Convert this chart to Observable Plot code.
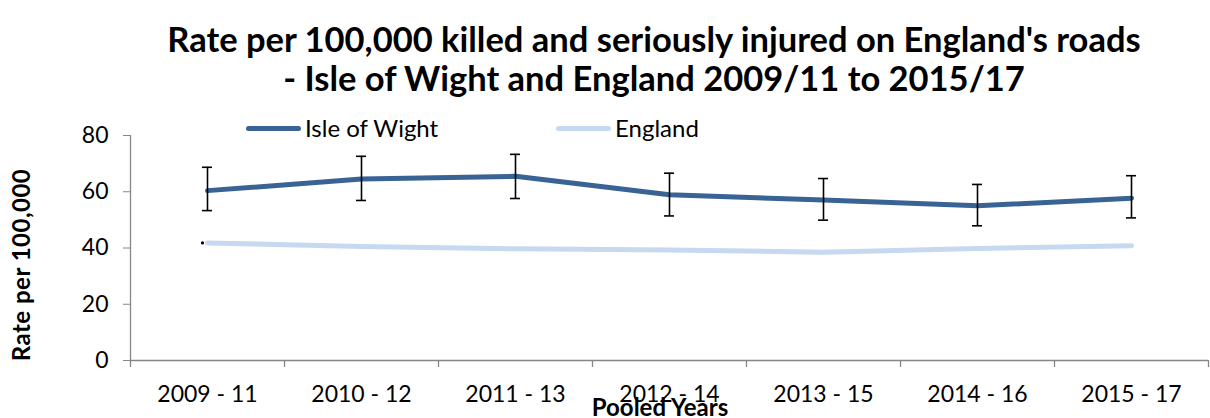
<!DOCTYPE html>
<html>
<head>
<meta charset="utf-8">
<script src="https://cdn.jsdelivr.net/npm/d3@7"></script>
<script src="https://cdn.jsdelivr.net/npm/@observablehq/plot@0.6"></script>
<style>
  html, body { margin: 0; padding: 0; background: #fff; }
  #wrap { position: relative; width: 1210px; height: 418px; overflow: hidden; font-family: Lato, "Open Sans", sans-serif; color: #000; }
  #wrap svg { position: absolute; left: 0; top: 0; }
  .title { position: absolute; left: 654px; transform: translateX(-50%); white-space: nowrap; font-weight: bold; font-size: 34.5px; line-height: 1; }
  .leg { position: absolute; font-size: 24px; line-height: 1; white-space: nowrap; display: flex; align-items: center; }
  .leg span.sw { display: inline-block; width: 55px; height: 5px; border-radius: 3px; margin-right: 4px; }
  #ylab { position: absolute; left: 21px; top: 265px; transform: translate(-50%, -50%) rotate(-90deg); font-weight: bold; font-size: 24px; letter-spacing: 0.5px; white-space: nowrap; line-height: 1; }
  #xlab { position: absolute; left: 660px; top: 395px; transform: translateX(-50%); font-weight: bold; font-size: 24px; white-space: nowrap; line-height: 1; }
</style>
</head>
<body>
<div id="wrap">
  <div class="title" style="top:22px">Rate per 100,000 killed and seriously injured on England's roads</div>
  <div class="title" style="top:61px">- Isle of Wight and England 2009/11 to 2015/17</div>
  <div id="ylab">Rate per 100,000</div>
  <div id="xlab">Pooled Years</div>
</div>
<script>
const categories = ["2009 - 11", "2010 - 12", "2011 - 13", "2012 - 14", "2013 - 15", "2014 - 16", "2015 - 17"];
const iow = [60.4, 64.5, 65.5, 58.9, 57.1, 55.0, 57.7];
const iowLower = [53.3, 56.9, 57.6, 51.4, 49.9, 47.9, 50.7];
const iowUpper = [68.7, 72.6, 73.3, 66.6, 64.7, 62.6, 65.7];
const england = [41.8, 40.5, 39.7, 39.3, 38.5, 39.8, 40.8];
const yTicks = [0, 20, 40, 60, 80];
const seriesNames = ["Isle of Wight", "England"];
const colors = ["#396395", "#c6d9f1"];

const rows = categories.map((c, i) => ({i, cat: c, iow: iow[i], lo: iowLower[i], hi: iowUpper[i], eng: england[i]}));
const bounds = d3.range(categories.length + 1).map(k => k - 0.5);

const axisColor = "#868686";
const chart = Plot.plot({
  width: 1210,
  height: 418,
  marginLeft: 130,
  marginRight: 2,
  marginTop: 135,
  marginBottom: 58,
  style: {fontFamily: "Lato, 'Open Sans', sans-serif", fontSize: "22px", color: "#000", background: "transparent", overflow: "visible"},
  x: {type: "linear", domain: [-0.5, categories.length - 0.5], axis: null},
  y: {domain: [0, 80], axis: null},
  marks: [
    Plot.axisY({ticks: yTicks, tickSize: 7, tickPadding: 15, stroke: axisColor, label: null, fontSize: 23}),
    Plot.axisX({ticks: d3.range(categories.length), tickSize: 0, tickPadding: 25, tickFormat: i => categories[i], label: null, fontSize: 23}),
    Plot.ruleX([-0.5], {stroke: axisColor, strokeWidth: 1.3}),
    Plot.ruleY([0], {stroke: axisColor, strokeWidth: 1.3}),
    Plot.ruleX(bounds, {y1: 0, y2: 0, insetBottom: -7, stroke: axisColor, strokeWidth: 1.3}),
    Plot.line(rows, {x: "i", y: "eng", stroke: colors[1], strokeWidth: 5, strokeLinecap: "round"}),
    Plot.dot([rows[0]], {x: "i", y: "eng", r: 1.6, fill: "#000", dx: -5}),
    Plot.line(rows, {x: "i", y: "iow", stroke: colors[0], strokeWidth: 5, strokeLinecap: "round"}),
    Plot.ruleX(rows, {x: "i", y1: "lo", y2: "hi", stroke: "#000", strokeWidth: 1.6}),
    Plot.ruleY(rows, {x1: "i", x2: "i", y: "lo", insetLeft: -5, insetRight: -5, stroke: "#000", strokeWidth: 1.6}),
    Plot.ruleY(rows, {x1: "i", x2: "i", y: "hi", insetLeft: -5, insetRight: -5, stroke: "#000", strokeWidth: 1.6})
  ]
});
const wrap = document.getElementById("wrap");
wrap.insertBefore(chart, wrap.firstChild);

// legend
const legPos = [[246, 116], [556, 116]];
seriesNames.forEach((name, k) => {
  const d = document.createElement("div");
  d.className = "leg";
  d.style.left = legPos[k][0] + "px";
  d.style.top = legPos[k][1] + "px";
  d.innerHTML = `<span class="sw" style="background:${colors[k]}"></span>${name}`;
  wrap.appendChild(d);
});
</script>
</body>
</html>
